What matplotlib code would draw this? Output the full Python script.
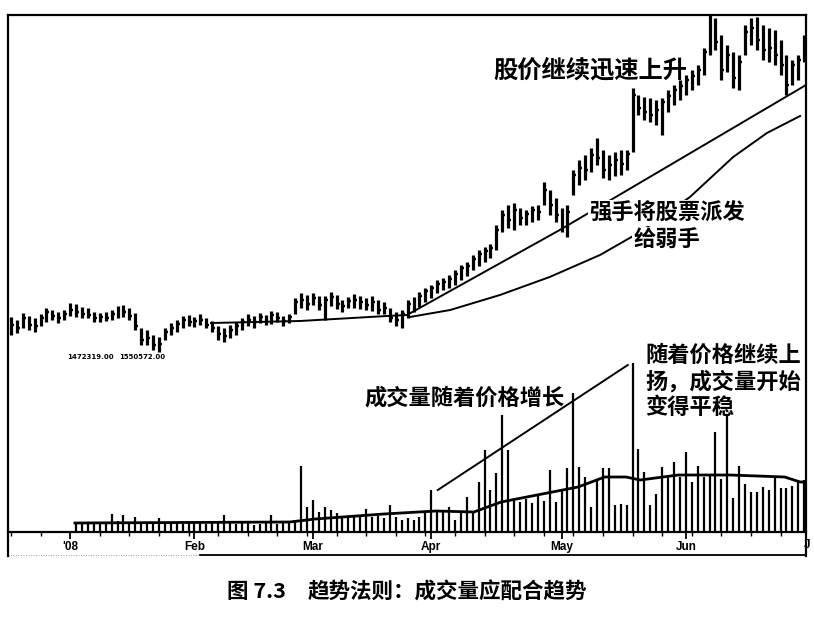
import matplotlib
matplotlib.use('Agg')
import matplotlib.pyplot as plt
from matplotlib.lines import Line2D
import numpy as np

plt.rcParams['font.family'] = ['Noto Sans CJK SC', 'DejaVu Sans']

# ---------------- data (daily bars, Dec 2007 - Jun 2008) ----------------
high = [24.3, 24.0, 24.7, 24.4, 24.2, 24.6, 25.2, 25.0, 24.8, 25.0,
        25.7, 25.6, 25.3, 25.2, 24.8, 24.7, 24.8, 25.0, 25.4, 25.5,
        25.2, 24.7, 23.2, 23.0, 22.5, 22.3, 23.2, 23.7, 24.0, 24.4,
        24.5, 24.3, 24.6, 24.2, 23.9, 23.4, 23.2, 23.5, 23.8, 24.2,
        24.6, 24.4, 24.7, 24.5, 24.9, 24.8, 24.4, 24.6, 26.2, 26.7,
        26.5, 26.7, 26.4, 26.4, 26.8, 26.5, 26.0, 26.3, 26.6, 26.4,
        26.2, 26.4, 26.0, 25.8, 25.2, 24.8, 25.0, 26.0, 26.3, 26.8,
        27.2, 27.5, 28.0, 28.2, 28.5, 29.0, 29.5, 29.8, 30.5, 31.0,
        31.3, 31.6, 33.5, 35.0, 35.5, 35.7, 35.2, 35.0, 35.4, 35.5,
        37.8, 37.0, 36.2, 35.2, 35.5, 39.0, 40.0, 40.5, 41.2, 42.2,
        41.0, 40.5, 40.8, 41.0, 41.0, 47.2, 46.5, 46.3, 46.2, 46.0,
        46.2, 47.0, 47.5, 48.0, 48.5, 49.0, 49.5, 51.2, 54.5, 54.2,
        52.5, 51.5, 50.8, 50.5, 53.5, 54.2, 54.3, 53.5, 53.2, 53.0,
        52.0, 50.5, 50.0, 50.5, 52.5]
low = [22.5, 22.7, 23.2, 23.0, 22.8, 23.4, 23.8, 24.0, 23.7, 24.0,
       24.4, 24.3, 24.2, 24.2, 23.8, 23.8, 23.9, 24.0, 24.2, 24.3,
       24.0, 23.0, 21.5, 21.5, 21.0, 20.8, 22.0, 22.5, 22.8, 23.2,
       23.4, 23.3, 23.5, 23.2, 22.8, 22.0, 21.8, 22.2, 22.5, 23.0,
       23.4, 23.2, 23.7, 23.5, 23.6, 23.8, 23.4, 23.7, 24.6, 25.2,
       25.0, 25.5, 25.0, 24.0, 25.4, 25.1, 24.8, 25.2, 25.2, 25.1,
       25.0, 24.9, 24.6, 24.6, 23.8, 23.4, 23.2, 24.2, 24.8, 25.3,
       25.8, 26.2, 26.7, 27.0, 27.2, 27.5, 28.0, 28.4, 29.0, 29.4,
       29.8, 30.2, 31.0, 32.8, 33.2, 33.0, 33.5, 33.5, 33.8, 34.0,
       35.5, 34.5, 33.8, 32.8, 32.3, 36.5, 37.5, 38.0, 38.8, 39.5,
       38.2, 38.0, 38.4, 38.5, 39.0, 40.8, 44.5, 44.0, 43.8, 43.5,
       42.5, 44.8, 45.5, 46.0, 46.5, 47.0, 47.5, 48.5, 50.5, 51.0,
       48.0, 48.8, 47.2, 47.0, 50.5, 51.5, 51.0, 50.0, 49.8, 49.5,
       48.5, 46.5, 47.5, 48.0, 49.8]
close = [23.5, 23.2, 24.2, 23.5, 23.4, 24.2, 24.8, 24.4, 24.2, 24.6,
         25.0, 24.8, 24.6, 24.5, 24.2, 24.3, 24.2, 24.6, 25.0, 24.8,
         24.4, 23.4, 22.0, 22.2, 21.5, 21.6, 22.8, 23.2, 23.6, 24.0,
         23.8, 23.9, 24.0, 23.5, 23.2, 22.6, 22.4, 23.0, 23.4, 23.8,
         24.0, 23.8, 24.3, 24.0, 24.5, 24.2, 23.9, 24.3, 25.8, 26.0,
         25.6, 26.2, 25.5, 26.0, 26.3, 25.6, 25.4, 25.9, 26.0, 25.8,
         25.5, 25.8, 25.0, 25.2, 24.2, 24.0, 24.6, 25.6, 25.9, 26.4,
         26.9, 27.2, 27.6, 27.8, 28.1, 28.6, 29.2, 29.4, 30.1, 30.6,
         30.9, 31.2, 33.0, 34.5, 34.0, 35.0, 34.2, 34.6, 35.0, 34.8,
         37.0, 35.5, 34.5, 33.5, 34.8, 38.5, 39.2, 39.0, 40.5, 40.2,
         39.0, 39.5, 40.0, 39.6, 40.6, 46.5, 45.2, 44.8, 44.5, 45.0,
         45.8, 46.4, 47.0, 47.4, 48.0, 48.4, 49.0, 50.8, 53.0, 51.8,
         49.0, 50.5, 48.2, 49.8, 52.8, 53.2, 52.0, 51.0, 51.2, 50.5,
         49.5, 47.5, 49.5, 50.0, 52.0]
volume = [0, 0, 0, 0, 0, 0, 0, 0, 0, 0,
          0, 10, 9, 9, 8, 10, 9, 18, 11, 17,
          10, 15, 9, 8, 9, 14, 8, 9, 10, 8,
          9, 10, 9, 8, 10, 9, 17, 9, 8, 10,
          9, 7, 8, 9, 17, 8, 9, 10, 12, 66,
          25, 32, 20, 25, 22, 19, 16, 15, 17, 16,
          23, 15, 16, 14, 27, 15, 12, 14, 12, 15,
          19, 42, 22, 22, 25, 12, 19, 35, 19, 50,
          82, 42, 59, 117, 82, 34, 30, 33, 29, 36,
          31, 62, 30, 42, 64, 139, 65, 55, 25, 52,
          64, 64, 27, 28, 27, 169, 83, 60, 27, 38,
          65, 55, 70, 55, 80, 50, 66, 55, 57, 100,
          53, 118, 34, 66, 48, 40, 40, 45, 42, 55,
          44, 44, 46, 50, 52]

month_labels = ["'08", "Feb", "Mar", "Apr", "May", "Jun"]
month_idx = [10, 31, 51, 71, 93, 114]

# moving-average lines (bar index, value)
ma_fast_idx = [33.8, 48.8, 63.5, 66.9, 92.7, 134.3]
ma_fast_val = [23.7, 23.9, 24.4, 24.5, 33.0, 47.5]
ma_slow_idx = [67.4, 74.2, 82.6, 91.0, 99.5, 106.3, 114.7, 122.0, 127.7, 133.3]
ma_slow_val = [24.3, 25.0, 26.5, 28.3, 30.5, 32.8, 36.3, 40.3, 42.7, 44.4]
vol_ma_idx = [10.8, 47.1, 51.4, 63.0, 71.8, 78.2, 82.8, 95.8, 100.3, 103.9,
              106.3, 112.7, 121.5, 130.7, 133.3, 134.3]
vol_ma_val = [9, 10, 13, 18, 21, 20, 30, 45, 55, 55, 52, 57, 57, 55, 50, 50]

# ---------------- figure ----------------
W, H = 814, 637
fig = plt.figure(figsize=(W / 100, H / 100), dpi=100)
fig.patch.set_facecolor('white')


def rect(l, t, r, b):
    return [l / W, 1 - b / H, (r - l) / W, (b - t) / H]


frame = fig.add_axes(rect(8, 15, 806, 556))
frame.set_xticks([])
frame.set_yticks([])
for s in ['left', 'right', 'top']:
    frame.spines[s].set_linewidth(1.6)
frame.spines['bottom'].set_visible(False)
frame.add_line(Line2D([0.2406, 1], [0.001, 0.001], transform=frame.transAxes,
                      color='black', lw=1.3, clip_on=False))
frame.add_line(Line2D([0, 0.2406], [0.001, 0.001], transform=frame.transAxes,
                      color='#777777', lw=0.6, ls=(0, (1, 2)), clip_on=False))

xlim = (-0.5, 134.3)
x = np.arange(len(high))

# volume panel
axv = fig.add_axes(rect(8, 15, 806, 532))
axv.patch.set_alpha(0)
axv.set_xlim(*xlim)
axv.set_ylim(0, 517)
for s in ['left', 'right', 'top']:
    axv.spines[s].set_visible(False)
axv.spines['bottom'].set_linewidth(1.6)
axv.vlines(x, 0, volume, color='black', lw=1.6)
axv.plot(vol_ma_idx, vol_ma_val, color='black', lw=2.0)
axv.set_yticks([])
axv.set_xticks(month_idx)
axv.set_xticklabels(month_labels, fontsize=8.5, fontweight='bold',
                    family='Liberation Sans')
axv.set_xticks(np.arange(0, 135, 5), minor=True)
axv.tick_params(axis='x', which='major', direction='out', length=5, width=1.3, pad=1.5)
axv.tick_params(axis='x', which='minor', direction='out', length=3, width=1.0)
# leader line for volume annotation
axv.plot([72.1, 104.2], [42, 167], color='black', lw=1.4)

# price panel
ax = fig.add_axes(rect(8, 15, 806, 532))
ax.patch.set_alpha(0)
ax.set_xlim(*xlim)
ax.set_ylim(2.8, 54.5)
ax.axis('off')
ax.vlines(x, low, high, color='black', lw=2.3)
ax.hlines(close, x, x + 0.5, color='black', lw=1.7)
ax.plot(ma_fast_idx, ma_fast_val, color='black', lw=1.4)
ax.plot(ma_slow_idx, ma_slow_val, color='black', lw=1.4)


def ftext(px, py, s, **kw):
    return fig.text(px / W, 1 - py / H, s, **kw)


white = dict(facecolor='white', edgecolor='none', pad=1.0)
ftext(590, 70, '股价继续迅速上升', fontsize=17.5, fontweight='bold', ha='center', va='center')
ftext(667, 213, '强手将股票派发', fontsize=16, fontweight='bold', ha='center', va='center', bbox=white)
ftext(667, 240, '给弱手', fontsize=16, fontweight='bold', ha='center', va='center', bbox=white)
ftext(465, 398, '成交量随着价格增长', fontsize=16, fontweight='bold', ha='center', va='center')
ftext(645, 355, '随着价格继续上', fontsize=16, fontweight='bold', ha='left', va='center')
ftext(645, 382, '扬，成交量开始', fontsize=16, fontweight='bold', ha='left', va='center')
ftext(645, 407, '变得平稳', fontsize=16, fontweight='bold', ha='left', va='center')

ftext(90, 357, '1472319.00', fontsize=5, fontweight='bold', family='DejaVu Sans',
      ha='center', va='center')
ftext(142, 357, '1550572.00', fontsize=5, fontweight='bold', family='DejaVu Sans',
      ha='center', va='center')
ftext(804, 545, 'J', fontsize=8.5, fontweight='bold', family='Liberation Sans',
      ha='left', va='center')

ftext(227, 592, '图 7.3', fontsize=15.5, fontweight='bold', ha='left', va='center')
ftext(308, 592, '趋势法则：成交量应配合趋势', fontsize=15.5, fontweight='bold',
      ha='left', va='center')

fig.savefig('out.png', dpi=100, facecolor='white')
